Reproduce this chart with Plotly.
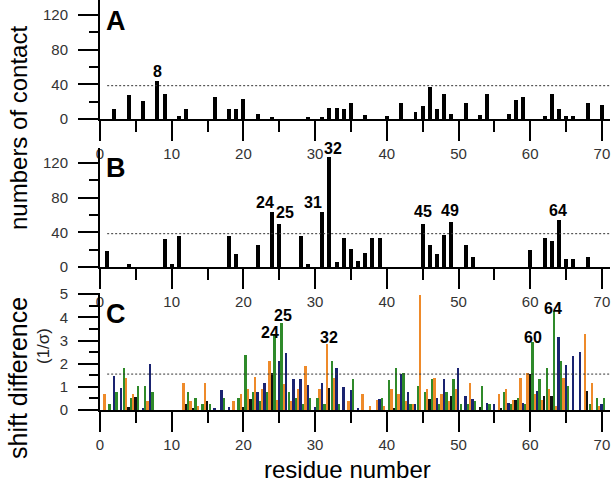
import plotly.graph_objects as go
import numpy as np

# ---------------- data ----------------
# Panel A: numbers of contact
res_A = [2, 4, 6, 8, 9, 11, 12, 16, 18, 19, 20, 22, 24, 29, 31, 32, 33, 34, 35, 37, 40,
         42, 44, 45, 46, 47, 48, 49, 51, 53, 54, 57, 58, 59, 62, 63, 64, 65, 66, 68, 70]
val_A = [11, 28, 21, 44, 29, 4, 11, 25, 11, 12, 23, 6, 2, 2, 2, 13, 13, 11, 19, 5, 4,
         18, 8, 15, 37, 11, 29, 6, 18, 5, 29, 6, 22, 25, 4, 29, 11, 4, 4, 19, 16]

# Panel B: numbers of contact
res_B = [1, 4, 9, 10, 11, 18, 19, 22, 24, 25, 28, 29, 31, 32, 33, 34, 35, 36, 37, 38, 39,
         45, 46, 47, 48, 49, 51, 52, 60, 62, 63, 64, 65, 66, 68]
val_B = [19, 4, 32, 3, 36, 36, 15, 26, 64, 50, 36, 4, 64, 127, 6, 33, 21, 7, 16, 34, 33,
         50, 26, 15, 37, 52, 26, 12, 20, 33, 30, 54, 9, 9, 12]

# Panel C: shift difference (1/sigma), four series
res_orange = [1, 4, 5, 7, 12, 13, 14, 15, 19, 20, 21, 22, 23, 24, 25, 26, 27, 28, 29, 31, 32, 33,
              35, 37, 38, 39, 40, 41, 42, 43, 44, 45, 46, 47, 48, 49, 50, 52, 56, 57, 58, 59,
              60, 61, 62, 63, 64, 65, 68, 69, 70]
val_orange = [0.68, 1.39, 0.68, 0.39, 1.15, 0.39, 0.17, 1.15, 0.39, 0.68, 0.89, 1.42, 0.89, 2.11,
              0.42, 1.14, 0.39, 0.89, 1.9, 0.89, 2.83, 1.39, 0.39, 0.68, 0.17, 0.42, 0.17, 0.89,
              0.68, 0.39, 0.24, 4.98, 0.89, 1.39, 0.68, 0.39, 0.89, 1.15, 0.68, 0.89, 0.42, 1.39,
              1.61, 0.68, 0.42, 0.89, 0.17, 1.39, 3.3, 1.15, 0.17]

res_navy = [2, 3, 6, 7, 16, 17, 18, 22, 23, 25, 26, 27, 28, 29, 30, 31, 33, 34, 35, 36, 39, 42,
            43, 44, 47, 48, 50, 51, 52, 54, 55, 57, 59, 61, 64, 65, 66, 67, 70]
val_navy = [1.47, 0.93, 0.1, 2.0, 0.1, 0.85, 0.14, 0.78, 1.15, 2.11, 2.47, 1.32, 1.32, 1.1, 0.14,
            1.15, 1.8, 1.0, 0.85, 0.1, 0.46, 1.54, 0.78, 0.24, 0.5, 1.32, 1.82, 0.6, 0.46, 0.32,
            0.24, 0.32, 0.29, 0.82, 3.16, 1.94, 2.33, 2.51, 0.24]

res_black = [4, 5, 12, 13, 15, 20, 21, 24, 32, 41, 46, 49, 53, 56, 58, 60, 62, 63, 68]
val_black = [0.14, 0.57, 0.24, 0.1, 0.39, 0.14, 0.46, 1.61, 0.93, 0.1, 0.46, 0.6, 0.14, 0.1, 0.42,
             1.54, 0.6, 0.6, 0.82]

res_green = [1, 2, 3, 4, 5, 6, 7, 12, 13, 14, 15, 17, 19, 20, 21, 22, 23, 24, 25, 26, 27, 28, 29,
             30, 31, 32, 33, 35, 39, 40, 41, 42, 43, 44, 45, 46, 47, 48, 49, 50, 51, 52, 53, 54,
             56, 57, 58, 59, 60, 61, 62, 63, 64, 65, 68, 69, 70]
val_green = [0.24, 0.78, 1.82, 0.5, 1.03, 1.03, 0.78, 0.78, 0.5, 0.24, 0.24, 0.5, 0.5, 2.37, 0.78,
             0.39, 0.78, 3.22, 3.74, 0.78, 0.5, 0.24, 0.5, 0.5, 0.24, 2.11, 0.24, 1.32, 0.5, 1.31,
             1.82, 1.58, 0.24, 1.03, 0.78, 1.32, 0.24, 0.78, 1.32, 0.24, 0.24, 0.39, 1.03, 0.24,
             0.78, 0.24, 0.5, 0.24, 2.93, 1.32, 1.82, 4.27, 2.11, 1.03, 0.24, 0.5, 0.5]

# labelled residues
lab_A = ["8"]
lab_A_x = [8]
lab_A_y = [55]
lab_B = ["24", "25", "31", "32", "45", "49", "64"]
lab_B_x = [23.0, 25.8, 29.7, 32.5, 45.0, 48.8, 63.9]
lab_B_y = [75, 63, 74, 137, 64, 65, 65]
lab_C = ["24", "25", "32", "60", "64"]
lab_C_x = [23.7, 25.5, 31.9, 60.4, 63.2]
lab_C_y = [3.36, 4.1, 3.15, 3.15, 4.4]

thr_AB = 38.5
thr_C = 1.55

x_ticks = [0, 10, 20, 30, 40, 50, 60, 70]

# ---------------- figure ----------------
FONT = "Liberation Sans, Arial, sans-serif"
ORANGE = "#EE8A2A"
NAVY = "#1A2370"
GREEN = "#2F8A2A"
BLACK = "#111111"

fig = go.Figure()

bw = 0.55
fig.add_trace(go.Bar(x=res_A, y=val_A, width=bw, marker=dict(color="black", line=dict(width=0)),
                     xaxis="x", yaxis="y"))
fig.add_trace(go.Bar(x=res_B, y=val_B, width=bw, marker=dict(color="black", line=dict(width=0)),
                     xaxis="x2", yaxis="y2"))

cw = 0.26
for res, val, col, sh in [(res_orange, val_orange, ORANGE, -0.33),
                          (res_navy, val_navy, NAVY, 0.0),
                          (res_black, val_black, BLACK, 0.0),
                          (res_green, val_green, GREEN, 0.35)]:
    fig.add_trace(go.Bar(x=np.array(res) + sh, y=val, width=cw,
                         marker=dict(color=col, line=dict(width=0)),
                         xaxis="x3", yaxis="y3"))

XR = [0, 71.13]
xax = dict(range=XR, showline=True, linecolor="black", linewidth=2, ticks="outside",
           ticklen=20, tickwidth=2, tickcolor="black", tickvals=x_ticks, automargin=False,
           minor=dict(tickvals=[5, 15, 25, 35, 45, 55, 65], ticklen=11, tickwidth=2,
                      tickcolor="black", ticks="outside"),
           showgrid=False, zeroline=False,
           tickfont=dict(family=FONT, size=15, color="#333"))

def yax(rng, dom, dtick, mdt, anchor):
    return dict(range=rng, domain=dom, showline=True, linecolor="black", linewidth=2,
                ticks="outside", ticklen=20, tickwidth=2, tickcolor="black", dtick=dtick,
                tick0=0, automargin=False, ticklabelstandoff=7,
                minor=dict(dtick=mdt, ticklen=9, tickwidth=2, tickcolor="black",
                           ticks="outside"),
                showgrid=False, zeroline=False, anchor=anchor,
                tickfont=dict(family=FONT, size=15, color="#333"))

H = 410.0
fig.update_layout(
    width=611, height=482,
    margin=dict(l=100, r=1, t=0, b=72, autoexpand=False),
    paper_bgcolor="white", plot_bgcolor="white",
    showlegend=False, barmode="overlay", bargap=0,
    xaxis=dict(xax, anchor="y"),
    xaxis2=dict(xax, anchor="y2"),
    xaxis3=dict(xax, anchor="y3"),
    yaxis=yax([0, 137.5], [291 / H, 1.0], 40, 20, "x"),
    yaxis2=yax([0, 137.5], [143 / H, 262 / H], 40, 20, "x2"),
    yaxis3=yax([0, 5.05], [0, 117 / H], 1, 0.5, "x3"),
)

# threshold dotted lines
for yr, xr, v in [("y", "x", thr_AB), ("y2", "x2", thr_AB), ("y3", "x3", thr_C)]:
    fig.add_shape(type="line", xref=xr, yref=yr, x0=1.0, x1=71.1, y0=v, y1=v,
                  line=dict(color="#333", width=1, dash="2px,2px"))

ann = []
# panel letters
for t, xr, yr, yv in [("A", "x", "y", 113), ("B", "x2", "y2", 114), ("C", "x3", "y3", 4.16)]:
    ann.append(dict(text="<b>%s</b>" % t, x=2.3, y=yv, xref=xr, yref=yr, showarrow=False,
                    font=dict(family=FONT, size=27, color="black"), xanchor="center",
                    yanchor="middle"))
# residue labels
for labs, xs, ys, xr, yr in [(lab_A, lab_A_x, lab_A_y, "x", "y"),
                             (lab_B, lab_B_x, lab_B_y, "x2", "y2"),
                             (lab_C, lab_C_x, lab_C_y, "x3", "y3")]:
    for t, xv, yv in zip(labs, xs, ys):
        ann.append(dict(text="<b>%s</b>" % t, x=xv, y=yv, xref=xr, yref=yr, showarrow=False,
                        font=dict(family=FONT, size=16, color="black"),
                        xanchor="center", yanchor="middle"))
# axis titles
ann.append(dict(text="numbers of contact", x=(18 - 100) / 510, y=(H - 128) / H, xref="paper",
                yref="paper", textangle=-90, showarrow=False,
                font=dict(family=FONT, size=24, color="black"), xanchor="center", yanchor="middle"))
ann.append(dict(text="shift difference", x=(18 - 100) / 510, y=(H - 378) / H, xref="paper",
                yref="paper", textangle=-90, showarrow=False,
                font=dict(family=FONT, size=25, color="black"), xanchor="center", yanchor="middle"))
ann.append(dict(text="(1/σ)", x=(43 - 100) / 510, y=(H - 346) / H, xref="paper",
                yref="paper", textangle=-90, showarrow=False,
                font=dict(family=FONT, size=17, color="#222"), xanchor="center", yanchor="middle"))
ann.append(dict(text="residue number", x=(347 - 100) / 510, y=(H - 470) / H, xref="paper",
                yref="paper", showarrow=False,
                font=dict(family=FONT, size=24, color="black"), xanchor="center", yanchor="middle"))
fig.update_layout(annotations=ann)

fig.write_html("out.html", config={"displayModeBar": False},
               post_script="document.body.style.margin='0';document.body.style.padding='0';")
